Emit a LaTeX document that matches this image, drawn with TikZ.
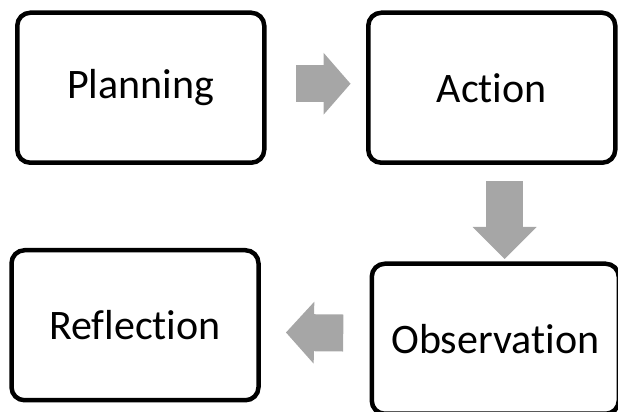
\documentclass[tikz,border=0pt]{standalone}
\usepackage{fontspec}
\setmainfont{Carlito}[Ligatures=NoCommon]
\usepackage{xcolor}
\usepackage{tikz}
\usetikzlibrary{positioning,arrows.meta}
\definecolor{arrowgray}{RGB}{166,166,166}

\begin{document}
\begin{tikzpicture}[
        stage/.style={draw, rounded corners=13pt, line width=4.5pt, minimum width=247pt,
                      minimum height=150pt, align=center, fill=white,
                      font=\fontsize{42}{50}\selectfont},
        flow/.style={draw=arrowgray, line width=37pt},
    ]
        \useasboundingbox (0,0) rectangle (618pt,412pt);
        \node[stage]                                    (plan) at (140.75pt,324.25pt) {Planning};
        \node[stage, right=99.5pt of plan]              (act)  {Action};
        \node[stage, below=96.5pt of act, xshift=3.5pt] (obs)  {Observation};
        \node[stage, below=83pt of plan, xshift=-5.75pt] (refl) {Reflection};

        \draw[flow, -{Triangle[length=27pt,width=62pt,line width=0pt]},
              shorten <=29.5pt, shorten >=15.5pt]
            ([yshift=4pt]plan.east) -- ([yshift=4pt]act.west);
        \draw[flow, -{Triangle[length=32pt,width=64pt,line width=0pt]},
              shorten <=16.5pt, shorten >=2.5pt]
            ([xshift=12.75pt]act.south) -- ([xshift=9.25pt]obs.north);
        \draw[flow, -{Triangle[length=28pt,width=62pt,line width=0pt]},
              shorten <=26.25pt, shorten >=25.25pt]
            ([yshift=5.5pt]obs.west) -- ([yshift=-7pt]refl.east);
\end{tikzpicture}
\end{document}
